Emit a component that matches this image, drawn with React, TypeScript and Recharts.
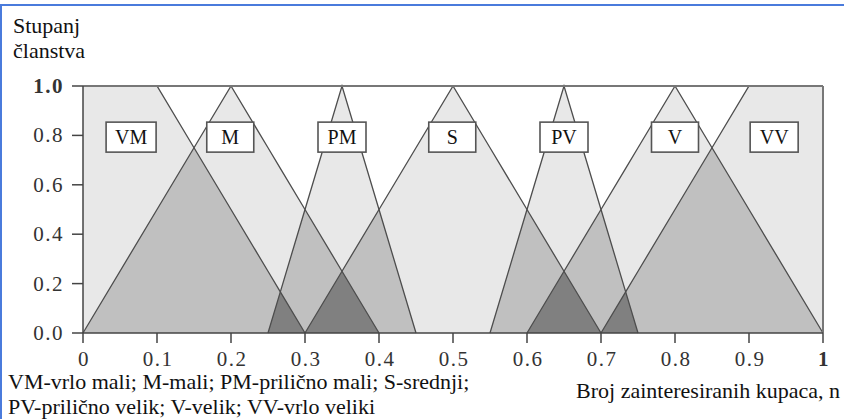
import React from "react";
import {
  ComposedChart,
  Area,
  Line,
  XAxis,
  YAxis,
  ReferenceLine,
  ReferenceDot,
} from "recharts";

// Membership functions (vertices)
const fnNames = ["VM", "M", "PM", "S", "PV", "V", "VV"];
const fnX = [
  [0, 0.1, 0.3],
  [0, 0.2, 0.4],
  [0.25, 0.35, 0.45],
  [0.3, 0.5, 0.7],
  [0.55, 0.65, 0.75],
  [0.6, 0.8, 1.0],
  [0.7, 0.9, 1.0],
];
const fnY = [
  [1, 1, 0],
  [0, 1, 0],
  [0, 1, 0],
  [0, 1, 0],
  [0, 1, 0],
  [0, 1, 0],
  [0, 1, 1],
];
// label box centres
const labelX = [0.065, 0.199, 0.35, 0.499, 0.65, 0.8, 0.934];
const labelY = 0.793;

const xTicks = [0, 0.1, 0.2, 0.3, 0.4, 0.5, 0.6, 0.7, 0.8, 0.9, 1];
const yTicks = [0, 0.2, 0.4, 0.6, 0.8, 1.0];

const FONT = '"Liberation Serif", "Times New Roman", serif';

function evalFn(i: number, x: number): number | null {
  const xs = fnX[i];
  const ys = fnY[i];
  if (x < xs[0] - 1e-9 || x > xs[xs.length - 1] + 1e-9) return null;
  for (let k = 0; k < xs.length - 1; k++) {
    if (x >= xs[k] - 1e-9 && x <= xs[k + 1] + 1e-9) {
      const t = xs[k + 1] === xs[k] ? 0 : (x - xs[k]) / (xs[k + 1] - xs[k]);
      return ys[k] + (ys[k + 1] - ys[k]) * Math.max(0, Math.min(1, t));
    }
  }
  return ys[ys.length - 1];
}
const val0 = (i: number, x: number) => evalFn(i, x) ?? 0;

function buildData() {
  const base = Array.from(new Set(fnX.flat())).sort((a, b) => a - b);
  const xsAll: number[] = [...base];
  for (let k = 0; k < base.length - 1; k++) {
    const a = base[k];
    const b = base[k + 1];
    for (let i = 0; i < fnX.length; i++) {
      for (let j = i + 1; j < fnX.length; j++) {
        const da = val0(i, a) - val0(j, a);
        const db = val0(i, b) - val0(j, b);
        if (da * db < 0) xsAll.push(a + ((b - a) * da) / (da - db));
      }
    }
  }
  xsAll.sort((a, b) => a - b);
  const xs: number[] = [];
  xsAll.forEach((x) => {
    if (!xs.length || Math.abs(x - xs[xs.length - 1]) > 1e-9) xs.push(x);
  });
  return xs.map((x) => {
    const row: Record<string, number | null> = { x };
    const vals = fnNames.map((_, i) => val0(i, x)).sort((a, b) => b - a);
    row.e1 = vals[0];
    row.e2 = vals[1];
    row.e3 = vals[2];
    fnNames.forEach((n, i) => {
      row[n] = evalFn(i, x);
    });
    return row;
  });
}
const data = buildData();

const XTick = (props: any) => {
  const { x, y, payload } = props;
  const v = payload.value as number;
  const s = v === 0 ? "0" : v === 1 ? "1" : v.toFixed(1);
  return (
    <text
      x={x + 1}
      y={y + 21}
      textAnchor="middle"
      fontFamily={FONT}
      fontSize={21}
      letterSpacing={1.5}
      fontWeight={v === 1 ? 700 : 400}
      fill="#333"
    >
      {s}
    </text>
  );
};

const YTick = (props: any) => {
  const { x, y, payload } = props;
  const v = payload.value as number;
  return (
    <text
      x={x - 6}
      y={y + 7}
      textAnchor="end"
      fontFamily={FONT}
      fontSize={21}
      letterSpacing={1.5}
      fontWeight={v === 1 ? 700 : 400}
      fill="#333"
    >
      {v.toFixed(1)}
    </text>
  );
};

const makeBox = (name: string) => (p: any) => {
  const w = name.length > 1 ? (name === "VM" ? 50 : 48) : 47;
  return (
    <g>
      <rect
        x={p.cx - w / 2}
        y={p.cy - 15}
        width={w}
        height={30}
        fill="#fff"
        stroke="#555"
        strokeWidth={1.6}
      />
      <text
        x={p.cx}
        y={p.cy + 7}
        textAnchor="middle"
        fontFamily={FONT}
        fontSize={20}
        fill="#111"
      >
        {name}
      </text>
    </g>
  );
};

export default function App() {
  return (
    <div
      style={{
        position: "absolute",
        left: 0,
        top: 0,
        width: 844,
        height: 419,
        background: "#fff",
        overflow: "hidden",
      }}
    >
      <ComposedChart
        width={844}
        height={419}
        data={data}
        margin={{ top: 86, right: 21, bottom: 56, left: 0 }}
      >
        <XAxis
          type="number"
          dataKey="x"
          domain={[0, 1]}
          ticks={xTicks}
          interval={0}
          tickSize={10}
          height={30}
          axisLine={{ stroke: "#444", strokeWidth: 1.5 }}
          tickLine={{ stroke: "#444", strokeWidth: 1.5 }}
          tick={<XTick />}
        />
        <YAxis
          type="number"
          domain={[0, 1]}
          ticks={yTicks}
          interval={0}
          tickSize={11}
          width={83}
          axisLine={{ stroke: "#444", strokeWidth: 1.5 }}
          tickLine={{ stroke: "#444", strokeWidth: 1.5 }}
          tick={<YTick />}
        />
        <Area
          type="linear"
          dataKey="e1"
          fill="#e8e8e8"
          fillOpacity={1}
          stroke="none"
          isAnimationActive={false}
          activeDot={false}
        />
        <Area
          type="linear"
          dataKey="e2"
          fill="#c0c0c0"
          fillOpacity={1}
          stroke="none"
          isAnimationActive={false}
          activeDot={false}
        />
        <Area
          type="linear"
          dataKey="e3"
          fill="#808080"
          fillOpacity={1}
          stroke="none"
          isAnimationActive={false}
          activeDot={false}
        />
        {fnNames.map((n) => (
          <Line
            key={n}
            type="linear"
            dataKey={n}
            stroke="#4d4d4d"
            strokeWidth={1.3}
            dot={false}
            activeDot={false}
            connectNulls={false}
            isAnimationActive={false}
          />
        ))}
        <ReferenceLine y={1} stroke="#777" strokeWidth={2} />
        <ReferenceLine x={1} stroke="#777" strokeWidth={2} />
        {fnNames.map((n, i) => (
          <ReferenceDot
            key={"lb" + n}
            x={labelX[i]}
            y={labelY}
            r={0}
            shape={makeBox(n)}
          />
        ))}
      </ComposedChart>
      <svg
        width={844}
        height={419}
        style={{ position: "absolute", left: 0, top: 0, pointerEvents: "none" }}
      >
        <g fontFamily={FONT} fontSize={22} fill="#111">
          <text x={13} y={33}>Stupanj</text>
          <text x={13} y={58}>članstva</text>
          <text x={8} y={389}>VM-vrlo mali; M-mali; PM-prilično mali; S-srednji;</text>
          <text x={8} y={414}>PV-prilično velik; V-velik; VV-vrlo veliki</text>
          <text x={840} y={398} textAnchor="end">Broj zainteresiranih kupaca, n</text>
        </g>
      </svg>
      <div
        style={{
          position: "absolute",
          left: 0,
          top: 4,
          width: 844,
          height: 2,
          background: "#4a7bdc",
        }}
      />
      <div
        style={{
          position: "absolute",
          left: 0,
          top: 4,
          width: 1.5,
          height: 415,
          background: "#4a7bdc",
        }}
      />
    </div>
  );
}
